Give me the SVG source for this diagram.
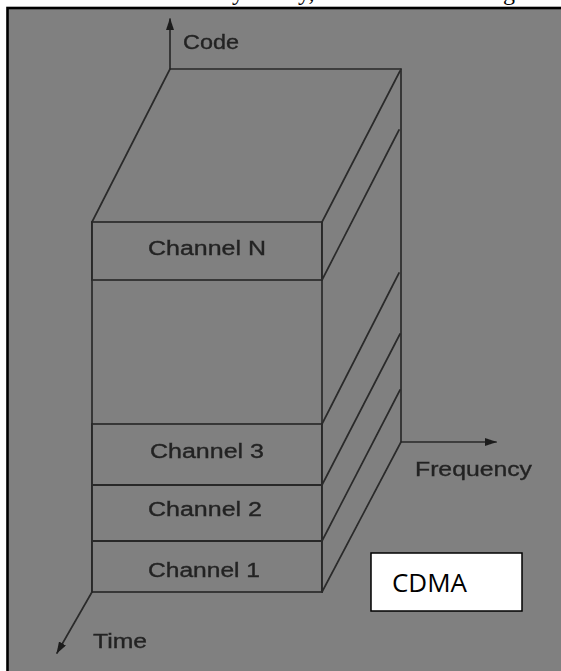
<svg xmlns="http://www.w3.org/2000/svg" width="561" height="671" viewBox="0 0 561 671">
  <style>
    .edge { stroke: #2a2a2a; stroke-width: 1.7; fill: none; stroke-linecap: round; }
    .lbl { font-family: "Liberation Sans", Arial, sans-serif; font-size: 20px; fill: #232323; stroke: #232323; stroke-width: 0.35; }
    .cap { font-family: "Liberation Serif", "Times New Roman", serif; font-size: 24px; fill: #000; }
  </style>
  <defs>
    <marker id="arrow" viewBox="0 0 12 8" refX="11" refY="4" markerWidth="12" markerHeight="8" markerUnits="userSpaceOnUse" orient="auto">
      <path d="M0,0 L12,4 L0,8 Z" fill="#1e1e1e"/>
    </marker>
    <filter id="soft" x="-5%" y="-5%" width="110%" height="110%">
      <feGaussianBlur stdDeviation="0.45"/>
    </filter>
  </defs>

  <!-- page strip above the figure: tails of the preceding text line -->
  <rect x="0" y="0" width="561" height="671" fill="#ffffff"/>
  <text class="cap" y="0"><tspan x="232">y</tspan><tspan x="298">y,</tspan><tspan x="503">g</tspan></text>

  <!-- figure frame -->
  <rect x="7.5" y="8" width="570" height="680" fill="#808080" stroke="#000" stroke-width="2.6"/>

  <g filter="url(#soft)">
    <!-- prism outline -->
    <g id="prism">
      <line class="edge" x1="170" y1="69" x2="401" y2="69"/>
      <line class="edge" x1="401" y1="69" x2="401" y2="442"/>
      <line class="edge" x1="92" y1="222" x2="170" y2="69"/>
      <line class="edge" x1="92" y1="222" x2="92" y2="592"/>
      <line class="edge" x1="322" y1="222" x2="322" y2="592"/>
      <!-- diagonal slices on the side face -->
      <line class="edge" x1="322" y1="222" x2="400" y2="71"/>
      <line class="edge" x1="322" y1="280" x2="399" y2="130"/>
      <line class="edge" x1="322" y1="424" x2="399" y2="273"/>
      <line class="edge" x1="322" y1="485" x2="400" y2="334"/>
      <line class="edge" x1="322" y1="541" x2="400" y2="390"/>
      <line class="edge" x1="322" y1="592" x2="401" y2="442"/>
    </g>

    <g id="channel-n">
      <rect class="edge" x="92" y="222" width="230" height="58"/>
      <text class="lbl" x="148" y="255" font-size="21" textLength="118" lengthAdjust="spacingAndGlyphs">Channel N</text>
    </g>
    <g id="channel-3">
      <rect class="edge" x="92" y="424" width="230" height="61"/>
      <text class="lbl" x="150" y="458" font-size="21" textLength="114" lengthAdjust="spacingAndGlyphs">Channel 3</text>
    </g>
    <g id="channel-2">
      <rect class="edge" x="92" y="485" width="230" height="56"/>
      <text class="lbl" x="148" y="516" font-size="21" textLength="114" lengthAdjust="spacingAndGlyphs">Channel 2</text>
    </g>
    <g id="channel-1">
      <rect class="edge" x="92" y="541" width="230" height="51"/>
      <text class="lbl" x="148" y="577" font-size="21" textLength="112" lengthAdjust="spacingAndGlyphs">Channel 1</text>
    </g>

    <!-- axes -->
    <g id="axes">
      <line class="edge" x1="170" y1="69" x2="170" y2="19" marker-end="url(#arrow)"/>
      <line class="edge" x1="401" y1="442" x2="496" y2="442" marker-end="url(#arrow)"/>
      <line class="edge" x1="92" y1="592" x2="57" y2="653" marker-end="url(#arrow)"/>
    </g>

    <g id="axis-labels">
      <text class="lbl" x="183" y="49" textLength="56" lengthAdjust="spacingAndGlyphs">Code</text>
      <text class="lbl" x="415" y="476" textLength="117" lengthAdjust="spacingAndGlyphs">Frequency</text>
      <text class="lbl" x="93" y="648" textLength="54" lengthAdjust="spacingAndGlyphs">Time</text>
    </g>
  </g>

  <g id="cdma-tag">
    <rect x="371" y="553" width="151" height="58" fill="#ffffff" stroke="#000" stroke-width="1.5"/>
    <text x="392" y="592" font-family="'Open Sans', 'Liberation Sans', sans-serif" font-size="26" fill="#000" textLength="75" lengthAdjust="spacingAndGlyphs">CDMA</text>
  </g>
</svg>
